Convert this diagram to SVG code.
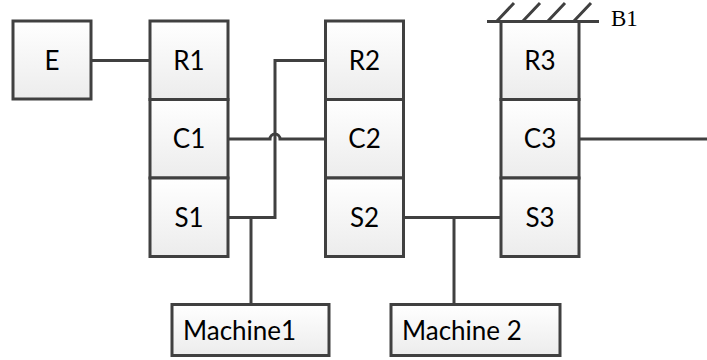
<svg xmlns="http://www.w3.org/2000/svg" width="707" height="360" viewBox="0 0 707 360">
<defs>
<linearGradient id="g" x1="0" y1="0" x2="0" y2="1">
<stop offset="0" stop-color="#ffffff"/>
<stop offset="1" stop-color="#ececec"/>
</linearGradient>
</defs>
<style>
.b{fill:url(#g);stroke:#404040;stroke-width:3}
.t{font-family:Lato,"Open Sans",sans-serif;font-size:26px;fill:#000;text-anchor:middle}
.tl{font-family:Lato,"Open Sans",sans-serif;font-size:26px;fill:#000}
.c{fill:none;stroke:#404040;stroke-width:3}
</style>
<rect width="707" height="360" fill="#fff"/>
<g id="connectors">
<path class="c" d="M91 60.5H150"/>
<path class="c" d="M325.5 60.5H275V217.5H228"/>
<path class="c" d="M228 139H270A5 5 0 0 1 280 139H325.5"/>
<path class="c" d="M251 217.5V305"/>
<path class="c" d="M403.5 217.5H501"/>
<path class="c" d="M454 217.5V304"/>
<path class="c" d="M579 139H707"/>
</g>
<g id="B1">
<path class="c" d="M487 21.5H599M497 21L514 3M523 21L540 3M548 21L565 3M574 21L591 3"/>
<text x="611" y="26" font-family="Liberation Serif,serif" font-size="23">B1</text>
</g>
<g id="E"><rect class="b" x="13" y="21" width="78" height="78"/><text class="t" x="52" y="69.5">E</text></g>
<g id="R1"><rect class="b" x="150" y="21" width="78" height="78.5"/><text class="t" x="189" y="69.5">R1</text></g>
<g id="C1"><rect class="b" x="150" y="99.5" width="78" height="78.5"/><text class="t" x="189" y="148">C1</text></g>
<g id="S1"><rect class="b" x="150" y="178" width="78" height="78.5"/><text class="t" x="189" y="226.5">S1</text></g>
<g id="R2"><rect class="b" x="325.5" y="21" width="78" height="78.5"/><text class="t" x="364.5" y="69.5">R2</text></g>
<g id="C2"><rect class="b" x="325.5" y="99.5" width="78" height="78.5"/><text class="t" x="364.5" y="148">C2</text></g>
<g id="S2"><rect class="b" x="325.5" y="178" width="78" height="78.5"/><text class="t" x="364.5" y="226.5">S2</text></g>
<g id="R3"><rect class="b" x="501" y="21.5" width="78" height="78"/><text class="t" x="540" y="69.5">R3</text></g>
<g id="C3"><rect class="b" x="501" y="99.5" width="78" height="78.5"/><text class="t" x="540" y="148">C3</text></g>
<g id="S3"><rect class="b" x="501" y="178" width="78" height="78.5"/><text class="t" x="540" y="226.5">S3</text></g>
<g id="Machine1"><rect class="b" x="172" y="304.5" width="157" height="51"/><text class="tl" x="183" y="339.5">Machine1</text></g>
<g id="Machine2"><rect class="b" x="391" y="304.5" width="169" height="51"/><text class="tl" x="402" y="339.5">Machine 2</text></g>
</svg>
